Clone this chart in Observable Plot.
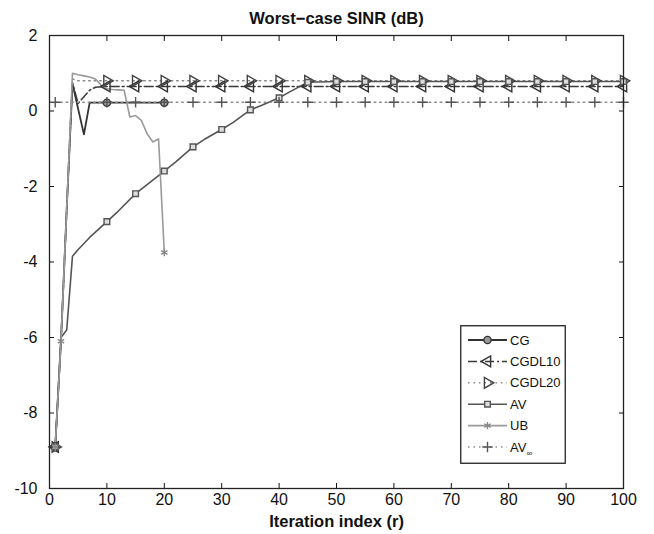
<!DOCTYPE html>
<html>
<head>
<meta charset="utf-8">
<script src="https://cdn.jsdelivr.net/npm/d3@7"></script>
<script src="https://cdn.jsdelivr.net/npm/@observablehq/plot@0.6"></script>
<style>
  body { margin: 0; background: #fff; font-family: "Liberation Sans", Arial, sans-serif; }
  #wrap { position: relative; width: 654px; height: 534px; }
  #legend { position: absolute; left: 460px; top: 325px; }
</style>
</head>
<body>
<div id="wrap"></div>
<script>
// Axis ticks
const xTicks = [0, 10, 20, 30, 40, 50, 60, 70, 80, 90, 100];
const yTicks = [-10, -8, -6, -4, -2, 0, 2];

// Iterations where markers are placed on the long runs
const markIter = [1, 10, 15, 20, 25, 30, 35, 40, 45, 50, 55, 60, 65, 70, 75, 80, 85, 90, 95, 100];

// CG
const cgIter = [1, 2, 3, 4, 5, 6, 7, 10, 15, 20];
const cgSinr = [-8.9, -6.1, -2.6, 0.72, 0.05, -0.62, 0.22, 0.22, 0.22, 0.22];
const cgMarks = [1, 10, 20];

// CGDL10
const cgdl10Iter = [1, 2, 3, 4, 5, 6, 7, 8, 10, 15, 20, 25, 30, 35, 40, 45, 50, 55, 60, 65, 70, 75, 80, 85, 90, 95, 100];
const cgdl10Sinr = [-8.9, -6.1, -2.6, 0.75, 0.2, 0.38, 0.55, 0.63, 0.65, 0.65, 0.65, 0.65, 0.65, 0.65, 0.65, 0.65, 0.65, 0.65, 0.65, 0.65, 0.65, 0.65, 0.65, 0.65, 0.65, 0.65, 0.65];

// CGDL20
const cgdl20Iter = [1, 2, 3, 4, 5, 10, 15, 20, 25, 30, 35, 40, 45, 50, 55, 60, 65, 70, 75, 80, 85, 90, 95, 100];
const cgdl20Sinr = [-8.9, -6.1, -2.6, 0.85, 0.8, 0.8, 0.8, 0.8, 0.8, 0.8, 0.8, 0.8, 0.8, 0.8, 0.8, 0.8, 0.8, 0.8, 0.8, 0.8, 0.8, 0.8, 0.8, 0.8];

// AV
const avIter = [1, 2, 3, 4, 5, 7, 10, 12, 15, 17, 20, 22, 25, 27, 30, 32, 35, 37, 40, 42, 45, 50, 55, 60, 65, 70, 75, 80, 85, 90, 95, 100];
const avSinr = [-8.9, -6.0, -5.8, -3.85, -3.67, -3.35, -2.93, -2.65, -2.19, -1.95, -1.59, -1.35, -0.95, -0.75, -0.49, -0.3, 0.03, 0.15, 0.35, 0.52, 0.76, 0.78, 0.78, 0.78, 0.78, 0.78, 0.78, 0.78, 0.78, 0.78, 0.78, 0.78];

// UB
const ubIter = [1, 2, 3, 4, 5, 6, 7, 8, 9, 10, 11, 12, 13, 14, 15, 16, 17, 18, 19, 20];
const ubSinr = [-8.9, -6.1, -2.6, 1.0, 0.96, 0.93, 0.9, 0.85, 0.68, 0.59, 0.57, 0.56, 0.55, -0.16, -0.12, -0.25, -0.6, -0.82, -0.74, -3.75];
const ubMarks = [1, 2, 20];

// AV with infinite window
const avInfIter = [1, 10, 15, 20, 25, 30, 35, 40, 45, 50, 55, 60, 65, 70, 75, 80, 85, 90, 95, 100];
const avInfSinr = [0.23, 0.23, 0.23, 0.23, 0.23, 0.23, 0.23, 0.23, 0.23, 0.23, 0.23, 0.23, 0.23, 0.23, 0.23, 0.23, 0.23, 0.23, 0.23, 0.23];

const titleText = "Worst\u2212case SINR (dB)";
const xLabel = "Iteration index (r)";

const rows = (xs, ys) => xs.map((x, i) => ({x, y: ys[i]}));
const pick = (rs, keep) => rs.filter(d => keep.includes(d.x));

const series = [
  {name: "CG", data: rows(cgIter, cgSinr), marks: cgMarks,
   stroke: "#333", width: 1.8, dash: null,
   symbol: "circle", r: 3.6, mStroke: "#333", mFill: "#999", rotate: 0},
  {name: "CGDL10", data: rows(cgdl10Iter, cgdl10Sinr), marks: markIter,
   stroke: "#3a3a3a", width: 1.5, dash: "9,3,2,3",
   symbol: "triangle", r: 4, mStroke: "#333", mFill: "none", rotate: -90},
  {name: "CGDL20", data: rows(cgdl20Iter, cgdl20Sinr), marks: markIter,
   stroke: "#888", width: 1.5, dash: "1.5,4",
   symbol: "triangle", r: 4, mStroke: "#444", mFill: "none", rotate: 90},
  {name: "AV", data: rows(avIter, avSinr), marks: markIter,
   stroke: "#555", width: 1.6, dash: null,
   symbol: "square", r: 3.2, mStroke: "#555", mFill: "#ddd", rotate: 0},
  {name: "UB", data: rows(ubIter, ubSinr), marks: ubMarks,
   stroke: "#9a9a9a", width: 1.6, dash: null,
   symbol: "asterisk", r: 3.5, mStroke: "#888", mFill: "none", rotate: 0},
  {name: "AV\u221e", data: rows(avInfIter, avInfSinr), marks: avInfIter,
   stroke: "#8a8a8a", width: 1.5, dash: "1.5,4",
   symbol: "plus", r: 3.5, mStroke: "#555", mFill: "none", rotate: 0}
];

const lineMarks = series.map(s => Plot.line(s.data, {
  x: "x", y: "y", stroke: s.stroke, strokeWidth: s.width,
  strokeDasharray: s.dash, strokeLinejoin: "round"
}));
const dotMarks = series.map(s => Plot.dot(pick(s.data, s.marks), {
  x: "x", y: "y", symbol: s.symbol, r: s.r, stroke: s.mStroke,
  fill: s.mFill, strokeWidth: 1.4, rotate: s.rotate
}));

const chart = Plot.plot({
  width: 654,
  height: 534,
  marginLeft: 49,
  marginRight: 31,
  marginTop: 35,
  marginBottom: 46,
  style: {fontFamily: "'Liberation Sans', Arial, sans-serif", fontSize: "16px", color: "#111", background: "#fff"},
  x: {domain: [0, 100]},
  y: {domain: [-10, 2]},
  marks: [
    Plot.axisX({anchor: "bottom", ticks: xTicks, tickSize: 5, inset: 5, tickPadding: 5, label: null, tickFormat: d => String(d)}),
    Plot.axisX({anchor: "top", ticks: xTicks, tickSize: 5, inset: 5, tickFormat: () => "", label: null}),
    Plot.axisY({anchor: "left", ticks: yTicks, tickSize: 5, inset: 5, tickPadding: 12, label: null, tickFormat: d => String(d)}),
    Plot.axisY({anchor: "right", ticks: yTicks, tickSize: 5, inset: 5, tickFormat: () => "", label: null}),
    ...lineMarks,
    ...dotMarks,
    Plot.frame({stroke: "#222", strokeWidth: 1.3}),
    Plot.text([titleText], {text: d => d, frameAnchor: "top", lineAnchor: "middle", dy: -17, fontWeight: "bold", fontSize: 16.5, fill: "#111"}),
    Plot.text([xLabel], {text: d => d, frameAnchor: "bottom", lineAnchor: "middle", dy: 33, fontWeight: "bold", fontSize: 16.5, fill: "#111"})
  ]
});

const wrap = document.getElementById("wrap");
wrap.appendChild(chart);

// Legend box drawn over the lower-right of the plot area
const lw = 106, lh = 139, rowH = 21.4, row0 = 15;
const legend = d3.select(wrap).append("svg")
  .attr("id", "legend").attr("width", lw).attr("height", lh);
legend.append("rect")
  .attr("x", 0.75).attr("y", 0.75).attr("width", lw - 1.5).attr("height", lh - 1.5)
  .attr("fill", "#fff").attr("stroke", "#222").attr("stroke-width", 1.3);

const symMap = {circle: d3.symbolCircle, triangle: d3.symbolTriangle, square: d3.symbolSquare,
  asterisk: d3.symbolAsterisk, plus: d3.symbolPlus};

series.forEach((s, i) => {
  const y = row0 + i * rowH;
  const g = legend.append("g");
  g.append("line").attr("x1", 8).attr("x2", 47).attr("y1", y).attr("y2", y)
    .attr("stroke", s.stroke).attr("stroke-width", s.width)
    .attr("stroke-dasharray", s.dash);
  g.append("path")
    .attr("d", d3.symbol(symMap[s.symbol], Math.PI * s.r * s.r)())
    .attr("transform", `translate(27.5,${y}) rotate(${s.rotate})`)
    .attr("fill", s.mFill === "none" ? "none" : s.mFill).attr("stroke", s.mStroke).attr("stroke-width", 1.4);
  const t = g.append("text").attr("x", 50).attr("y", y).attr("dy", "0.35em")
    .attr("font-family", "'Liberation Sans', Arial, sans-serif").attr("font-size", 13).attr("fill", "#111");
  if (s.name.endsWith("\u221e")) {
    t.append("tspan").text(s.name.slice(0, -1));
    t.append("tspan").attr("font-size", 8).attr("dy", "0.5em").text("\u221e");
  } else {
    t.text(s.name);
  }
});
</script>
</body>
</html>
